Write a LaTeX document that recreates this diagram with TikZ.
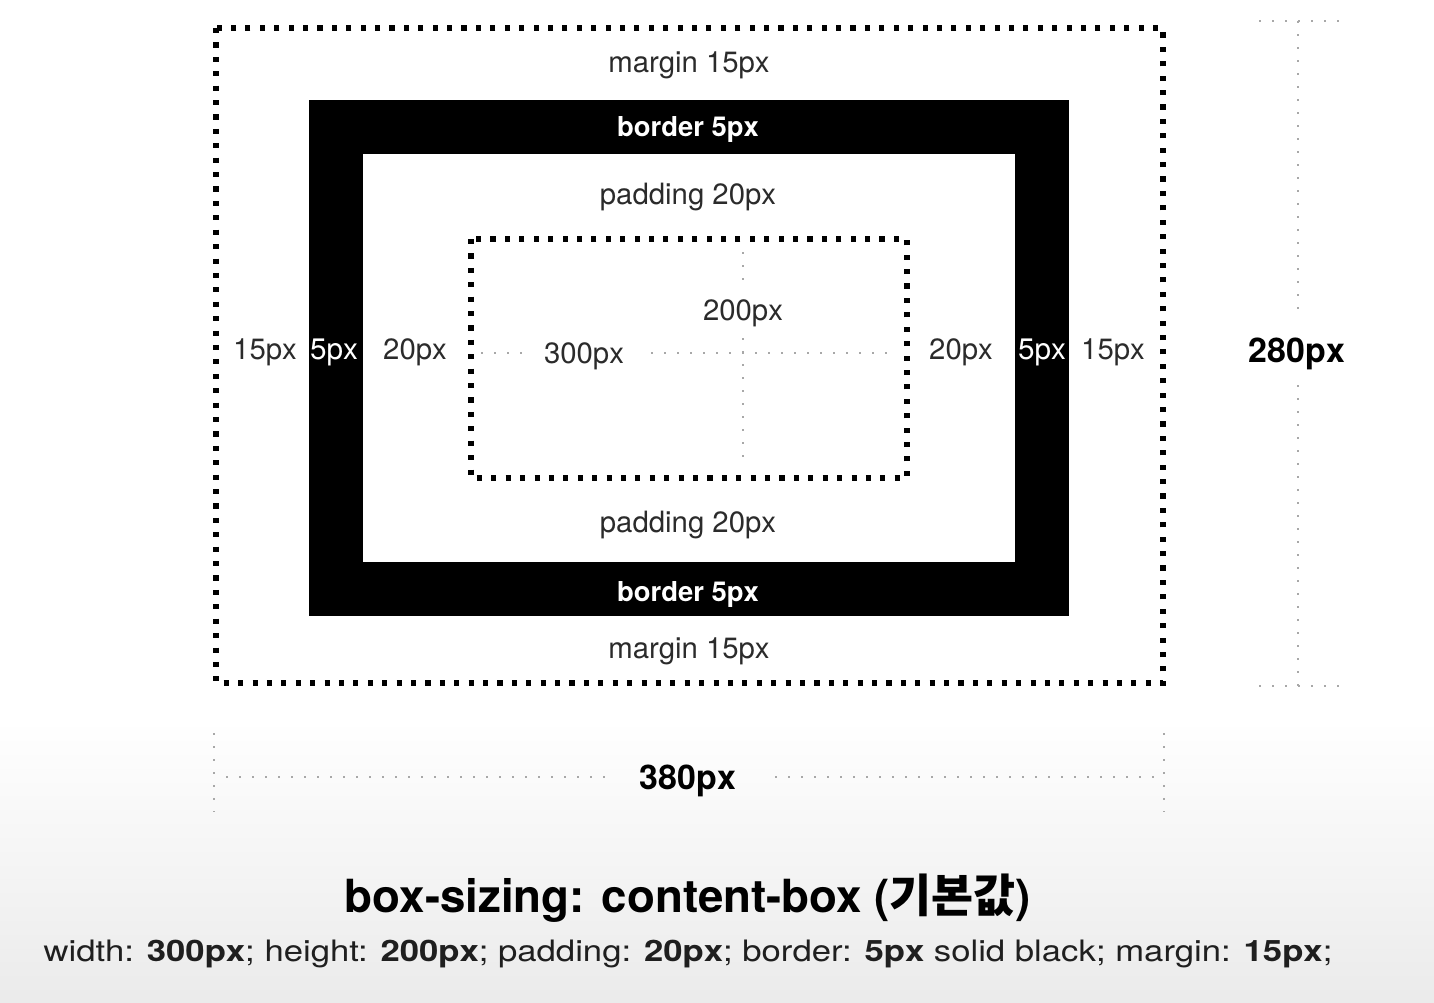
\documentclass[tikz,border=0pt]{standalone}
\usepackage{graphicx}
\usepackage{fontspec}
\setmainfont{TeX Gyre Heros}
\newfontfamily\kr{Noto Sans CJK KR}
\definecolor{txt}{HTML}{2B2B2B}
\definecolor{dimgray}{HTML}{A8A8A8}
\tikzset{
  bigdots/.style={line width=2.9pt, dash pattern=on 2.9pt off 5.3pt, black},
  thindots/.style={line width=1.3pt, dash pattern=on 1.3pt off 6.1pt, dimgray},
  lbl/.style={anchor=base, inner sep=0pt, text=txt, font=\fontsize{16.7}{18}\selectfont},
  wlbl/.style={anchor=base, inner sep=0pt, text=white, font=\fontsize{16.9}{18}\selectfont},
  blbl/.style={anchor=base, inner sep=0pt, text=white, font=\bfseries\fontsize{15.6}{18}\selectfont},
  dimlbl/.style={anchor=base, inner sep=0pt, text=black, font=\bfseries\fontsize{19.3}{22}\selectfont},
}
\begin{document}
\begin{tikzpicture}[x=0.02cm,y=-0.02cm]
\useasboundingbox (0,0) rectangle (1434,1002);
\fill[white] (0,0) rectangle (1434,1002);
\shade[top color=white, bottom color=black!8] (0,720) rectangle (1434,1002);

% boxes
\draw[bigdots] (216,28) rectangle (1163,683);
\fill[black] (309,100) rectangle (1069,616);
\fill[white] (363,154) rectangle (1015,562);
\draw[bigdots] (471,239) rectangle (907,478);

% labels
\node[lbl] (m1) at (689,72.5) {margin 15px};
\node[blbl] (b1) at (688,136) {border 5px};
\node[lbl] (p1) at (688,204.5) {padding 20px};
\node[lbl] (p2) at (688,532.5) {padding 20px};
\node[blbl] (b2) at (688,601) {border 5px};
\node[lbl] (m2) at (689,658.5) {margin 15px};
\node[lbl] (ml) at (265,359.5) {15px};
\node[wlbl] (bl) at (334,359.5) {5px};
\node[lbl] (pl) at (415,359.5) {20px};
\node[lbl] (pr) at (961,359.5) {20px};
\node[wlbl] (br) at (1042,359.5) {5px};
\node[lbl] (mr) at (1113,359.5) {15px};
\node[lbl] (w300) at (584,363.5) {300px};
\node[lbl] (h200) at (743,320.5) {200px};
\node[dimlbl] (h280) at (1297,362) {280px};
\node[dimlbl] (w380) at (688,789) {380px};

% inner dimension lines
\coordinate (cl) at (481,353);
\coordinate (cr) at (888,353);
\coordinate (ct) at (743,252);
\coordinate (cb) at (743,462);
\draw[thindots] (cl) -- (524,353);
\draw[thindots] (651,353) -- (cr);
\draw[thindots] (ct) -- (743,290);
\draw[thindots] (743,338) -- (cb);

% right dimension 280px
\coordinate (rt1) at (1259,21);
\coordinate (rt2) at (1339,21);
\coordinate (rb1) at (1259,686);
\coordinate (rb2) at (1339,686);
\draw[thindots] (rt1) -- (rt2);
\draw[thindots] (rb1) -- (rb2);
\draw[thindots] (1298,21) -- (1298,313);
\draw[thindots] (1298,385) -- (1298,686);

% bottom dimension 380px
\coordinate (bl1) at (214,733);
\coordinate (bl2) at (214,812);
\coordinate (br1) at (1164,733);
\coordinate (br2) at (1164,812);
\draw[thindots] (bl1) -- (bl2);
\draw[thindots] (br1) -- (br2);
\draw[thindots] (226,777) -- (607,777);
\draw[thindots] (775,777) -- (1156,777);

% captions
\node[anchor=base, inner sep=0pt, font=\bfseries\fontsize{26}{30}\selectfont] (title) at (688,912)
  {box-sizing: content-box ({\kr\bfseries 기본값})};
\node[anchor=base, inner sep=0pt, text=black!88, font=\fontsize{16.8}{20}\selectfont] (css) at (688,961)
  {\resizebox{25.78cm}{\height}{width: \textbf{300px}; height: \textbf{200px}; padding: \textbf{20px}; border: \textbf{5px} solid black; margin: \textbf{15px};}};
\end{tikzpicture}
\end{document}
